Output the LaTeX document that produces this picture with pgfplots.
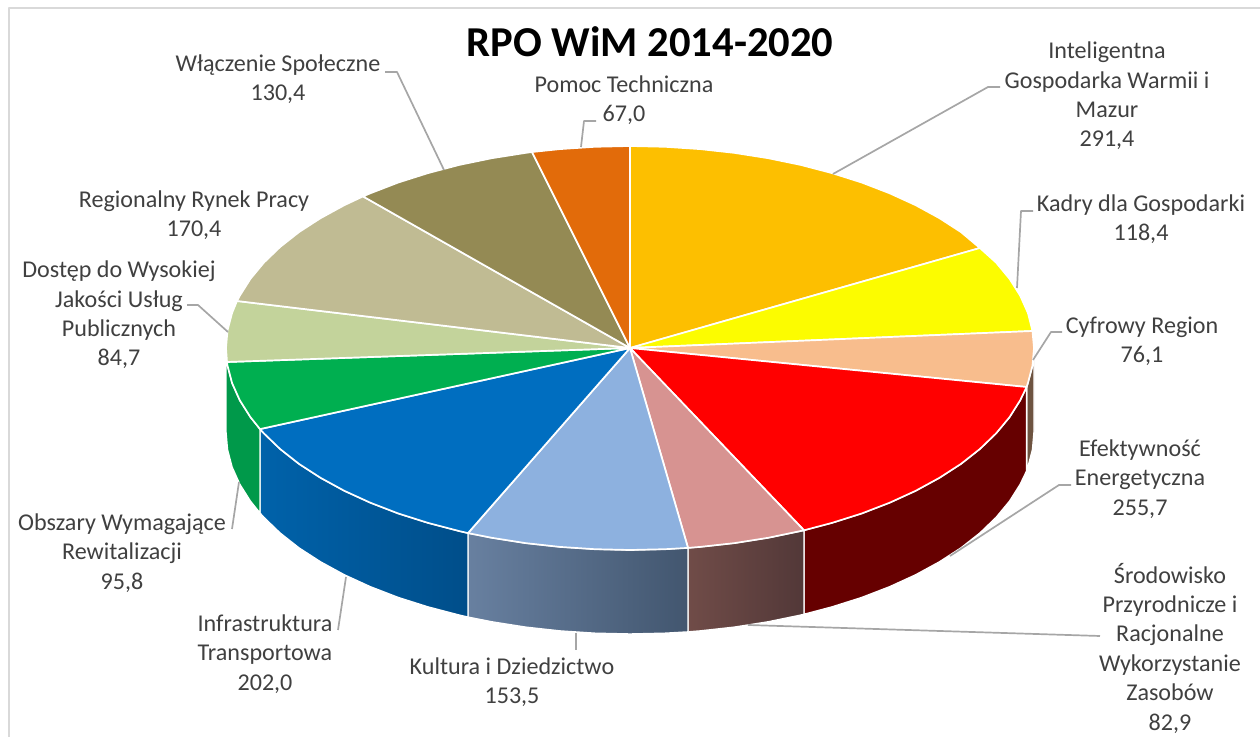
\documentclass[border=0pt]{standalone}
\usepackage{pgfplots}
\pgfplotsset{compat=1.18}
\usepackage{fontspec}
\setmainfont{Carlito}
\definecolor{txt}{HTML}{404040}
\definecolor{lead}{HTML}{A6A6A6}
\definecolor{frame}{HTML}{D9D9D9}
\definecolor{cOrange}{HTML}{FDBF00}
\definecolor{cYellow}{HTML}{FCFC00}
\definecolor{cPeach}{HTML}{F8BD8D}
\definecolor{cRed}{HTML}{FF0000}
\definecolor{cPink}{HTML}{D79391}
\definecolor{cLBlue}{HTML}{8DB1DF}
\definecolor{cBlue}{HTML}{006EC0}
\definecolor{cGreen}{HTML}{00AF50}
\definecolor{cLGreen}{HTML}{C3D39B}
\definecolor{cTan}{HTML}{C0BB93}
\definecolor{cOlive}{HTML}{948A54}
\definecolor{cDOrange}{HTML}{E26B0A}
\definecolor{wRed}{HTML}{660000}
\definecolor{wPeach}{HTML}{6D5340}
\definecolor{wGreen}{HTML}{00994A}
\tikzset{
  wedge/.style={draw=white, line width=0.85pt},
  wall/.style={draw=white, line width=0.7pt},
  leader/.style={draw=lead, line width=0.85pt},
  lab/.style={text=txt, align=center, inner sep=0pt, font=\fontsize{12.05}{14.7}\selectfont},
}
\begin{document}
\begin{tikzpicture}
\useasboundingbox (0,0) rectangle (630pt,368.5pt);
\begin{axis}[
  at={(0,0)}, anchor=south west,
  scale only axis, width=630pt, height=368.5pt,
  xmin=0, xmax=1260, ymin=0, ymax=737, y dir=reverse,
  hide axis, clip=false,
  every axis plot/.append style={forget plot, mark=none, line join=round},
]
% frame
\addplot[draw=frame, line width=1pt] coordinates {(9,737) (9,8.5) (1260,8.5)};

% side walls
\addplot[wall, fill=wPeach] coordinates {(1034,348)(1032.5,365.6)(1027.9,383.1)(1026.6,387)(1026.6,471)(1027.9,467.1)(1032.5,449.6)(1034,432)} --cycle;
\addplot[wall, fill=wRed] coordinates {(1026.6,387)(1020.2,400.3)(1009.6,417.1)(996.1,433.4)(979.9,449)(961,463.9)(939.5,477.8)(915.7,490.8)(889.7,502.7)(861.7,513.5)(832,522.9)(804,530.3)
 (804,614.3)(832,606.9)(861.7,597.5)(889.7,586.7)(915.7,574.8)(939.5,561.8)(961,547.9)(979.9,533)(996.1,517.4)(1009.6,501.1)(1020.2,484.3)(1026.6,471)} --cycle;
\addplot[wall, left color={rgb,255:red,112;green,76;blue,72}, right color={rgb,255:red,82;green,56;blue,56}] coordinates {(804,530.3)(800.7,531.1)(768.2,537.8)(734.6,543.1)(700.2,546.9)(688,547.9)
 (688,631.9)(700.2,630.9)(734.6,627.1)(768.2,621.8)(800.7,615.1)(804,614.3)} --cycle;
\addplot[wall, left color={rgb,255:red,104;green,128;blue,160}, right color={rgb,255:red,66;green,86;blue,111}] coordinates {(688,547.9)(665.2,549.2)(630,550)(594.8,549.2)(559.8,546.9)(525.4,543.1)(491.8,537.8)(468,533.1)
 (468,617.1)(491.8,621.8)(525.4,627.1)(559.8,630.9)(594.8,633.2)(630,634)(665.2,633.2)(688,631.9)} --cycle;
\addplot[wall, left color={rgb,255:red,0;green,98;blue,170}, right color={rgb,255:red,0;green,78;blue,138}] coordinates {(468,533.1)(459.3,531.1)(428,522.9)(398.3,513.5)(370.3,502.7)(344.3,490.8)(320.5,477.8)(299,463.9)(280.1,449)(263.9,433.4)(260,429.1)
 (260,513.1)(263.9,517.4)(280.1,533)(299,547.9)(320.5,561.8)(344.3,574.8)(370.3,586.7)(398.3,597.5)(428,606.9)(459.3,615.1)(468,617.1)} --cycle;
\addplot[wall, fill=wGreen] coordinates {(260,429.1)(250.4,417.1)(239.8,400.3)(232.1,383.1)(227.5,365.6)(226,348)
 (226,432)(227.5,449.6)(232.1,467.1)(239.8,484.3)(250.4,501.1)(260,513.1)} --cycle;

% top face
\addplot[wedge, fill=cOrange] coordinates {(630,348)(630,146)(665.2,146.8)(700.2,149.1)(734.6,152.9)(768.2,158.2)(800.7,164.9)(832,173.1)(861.7,182.5)(889.7,193.3)(915.7,205.2)(939.5,218.2)(961,232.1)(979.9,248)} --cycle;
\addplot[wedge, fill=cYellow] coordinates {(630,348)(979.9,248)(996.1,262.6)(1009.6,278.9)(1020.2,295.7)(1027.9,312.9)(1032.5,331)} --cycle;
\addplot[wedge, fill=cPeach] coordinates {(630,348)(1032.5,331)(1034,348)(1032.5,365.6)(1027.9,383.1)(1026.6,387)} --cycle;
\addplot[wedge, fill=cRed] coordinates {(630,348)(1026.6,387)(1020.2,400.3)(1009.6,417.1)(996.1,433.4)(979.9,449)(961,463.9)(939.5,477.8)(915.7,490.8)(889.7,502.7)(861.7,513.5)(832,522.9)(804,530.3)} --cycle;
\addplot[wedge, fill=cPink] coordinates {(630,348)(804,530.3)(768.2,537.8)(734.6,543.1)(700.2,546.9)(688,547.9)} --cycle;
\addplot[wedge, fill=cLBlue] coordinates {(630,348)(688,547.9)(665.2,549.2)(630,550)(594.8,549.2)(559.8,546.9)(525.4,543.1)(491.8,537.8)(468,533.1)} --cycle;
\addplot[wedge, fill=cBlue] coordinates {(630,348)(468,533.1)(459.3,531.1)(428,522.9)(398.3,513.5)(370.3,502.7)(344.3,490.8)(320.5,477.8)(299,463.9)(280.1,449)(263.9,433.4)(260,429.1)} --cycle;
\addplot[wedge, fill=cGreen] coordinates {(630,348)(260,429.1)(250.4,417.1)(239.8,400.3)(232.1,383.1)(227.5,365.6)(227,362)} --cycle;
\addplot[wedge, fill=cLGreen] coordinates {(630,348)(227,362)(226,348)(227.5,330.4)(232.1,312.9)(237,301)} --cycle;
\addplot[wedge, fill=cTan] coordinates {(630,348)(237,301)(239.8,295.7)(250.4,278.9)(263.9,262.6)(280.1,247)(299,232.1)(320.5,218.2)(344.3,205.2)(363,196.4)} --cycle;
\addplot[wedge, fill=cOlive] coordinates {(630,348)(363,196.4)(370.3,193.3)(398.3,182.5)(428,173.1)(459.3,164.9)(491.8,158.2)(525.4,152.9)(532,152)} --cycle;
\addplot[wedge, fill=cDOrange] coordinates {(630,348)(532,152)(559.8,149.1)(594.8,146.8)(630,146)} --cycle;

% leader lines
\addplot[leader] coordinates {(833,174)(988,87)(1000,87)};
\addplot[leader] coordinates {(1017,288)(1021,211)(1033,211)};
\addplot[leader] coordinates {(1033,360)(1051,332)(1062,332)};
\addplot[leader] coordinates {(950,556)(1059,485)(1071,485)};
\addplot[leader] coordinates {(748,625)(1100,636)};
\addplot[leader] coordinates {(576,633)(576,650)};
\addplot[leader] coordinates {(346,577)(338,630)};
\addplot[leader] coordinates {(239,482)(232,529)};
\addplot[leader] coordinates {(228,332)(198,305)(187,305)};
\addplot[leader] coordinates {(444,170)(397,72)(385,72)};
\addplot[leader] coordinates {(581,147)(584,121)(596,121)};

% title and labels
\node[text=black, inner sep=0pt, font=\fontsize{21.3}{26}\selectfont\bfseries] at (axis cs:650,42) {RPO WiM 2014-2020};
\node[lab] at (axis cs:1107,96) {Inteligentna\\Gospodarka Warmii i\\Mazur\\291,4};
\node[lab] at (axis cs:1141,219) {Kadry dla Gospodarki\\118,4};
\node[lab] at (axis cs:1142,341) {Cyfrowy Region\\76,1};
\node[lab] at (axis cs:1140,479) {Efektywność\\Energetyczna\\255,7};
\node[lab] at (axis cs:1170,648) {Środowisko\\Przyrodnicze i\\Racjonalne\\Wykorzystanie\\Zasobów\\82,9};
\node[lab] at (axis cs:512,682) {Kultura i Dziedzictwo\\153,5};
\node[lab] at (axis cs:265,654) {Infrastruktura\\Transportowa\\202,0};
\node[lab] at (axis cs:122,553) {Obszary Wymagające\\Rewitalizacji\\95,8};
\node[lab] at (axis cs:119,315) {Dostęp do Wysokiej\\Jakości Usług\\Publicznych\\84,7};
\node[lab] at (axis cs:194,215) {Regionalny Rynek Pracy\\170,4};
\node[lab] at (axis cs:278,79) {Włączenie Społeczne\\130,4};
\node[lab] at (axis cs:624,100) {Pomoc Techniczna\\67,0};
\end{axis}
\end{tikzpicture}
\end{document}
